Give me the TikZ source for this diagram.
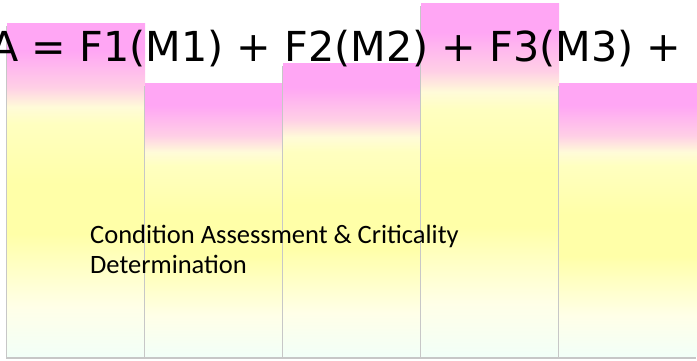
\documentclass[tikz,border=0pt]{standalone}
\usepackage{fontspec}
\usepackage{tikz}
\usetikzlibrary{positioning,shadows}
\newfontfamily\eqfont{DejaVu Sans}
\newfontfamily\labelfont{Carlito}
\definecolor{cM}{HTML}{FFA6F4}
\definecolor{cP}{HTML}{FFCFE6}
\definecolor{cC}{HTML}{FFFBD8}
\definecolor{cY}{HTML}{FFFFC0}
\definecolor{cYY}{HTML}{FFFFA8}
\definecolor{cL}{HTML}{FFFFE8}
\definecolor{cW}{HTML}{F2FFF8}
\pgfdeclareverticalshading{barfade}{100bp}{color(0bp)=(cW); color(25bp)=(cW);
  color(32.5bp)=(cL); color(43.5bp)=(cYY); color(51bp)=(cYY); color(60bp)=(cY);
  color(62.5bp)=(cC); color(65.5bp)=(cP); color(71bp)=(cM); color(75bp)=(cM);
  color(100bp)=(cM)}
\tikzset{
  bar/.style={rectangle,anchor=south west,inner sep=0pt,minimum width=138pt,
              shade,shading=barfade,
              general shadow={shadow xshift=-0.9pt,shadow yshift=-2.5pt,fill=black!22}},
  eq/.style={anchor=base west,inner sep=0pt,font=\eqfont\fontsize{41.3}{48}\selectfont},
  note/.style={anchor=base west,inner sep=0pt,align=left,
              font=\labelfont\fontsize{26.5}{30}\selectfont},
}

\begin{document}
\begin{tikzpicture}[x=1pt,y=-1pt]
  \useasboundingbox (0,0) rectangle (697,361);
  \clip (0,0) rectangle (697,361);
  % bars
  \foreach \i/\h [count=\k from 0] in {1/333,2/273,3/293,4/353,5/273}{
    \node[bar,minimum height=\h pt] (b\i) at ({7+138*\k},357) {};
  }
  % formula and caption
  \node[eq] (eqn) at (-10,62) {A = F1(M1) + F2(M2) + F3(M3) +};
  \node[note] (cad) at (90,273) {Condition Assessment \& Criticality\\Determination};
\end{tikzpicture}
\end{document}
